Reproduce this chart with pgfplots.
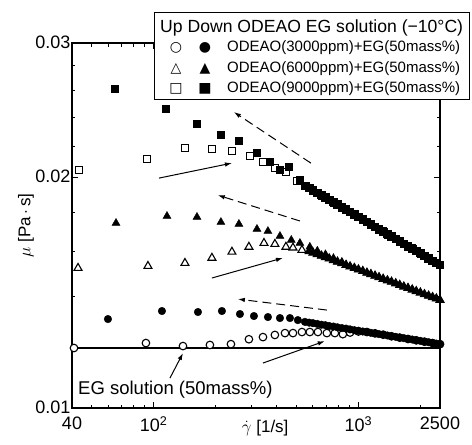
\documentclass[border=0pt]{standalone}
\usepackage{pgfplots}
\pgfplotsset{compat=1.18}
\usepackage{pgfplotstable}
\usepackage{fontspec}
\setmainfont{Liberation Sans}
\newfontfamily\sym{DejaVu Sans}
\usetikzlibrary{arrows.meta}

\pgfplotstableread{
x y
40.9 0.01198
91.8 0.01216
139.2 0.01205
188.4 0.01209
238.6 0.01212
292 0.01230
342 0.01238
391 0.01246
438 0.01253
479 0.01253
530 0.01257
579 0.01257
634 0.01257
701 0.01253
767 0.01253
839 0.01249
910 0.01255
1000 0.01259
1100 0.01257
1205 0.01252
1320 0.01247
1450 0.01241
1590 0.01236
1745 0.01231
1915 0.01226
2100 0.01221
2300 0.01216
2500 0.01212
}\upA

\pgfplotstableread{
x y
59.9 0.01307
109.9 0.01339
164.7 0.01335
215.6 0.01339
264 0.01327
309 0.01319
361.6 0.01315
413.9 0.01311
463 0.01311
506 0.01303
548 0.01296
575 0.01293
600 0.01291
630 0.01288
660 0.01285
690 0.01283
720 0.01280
755 0.01278
790 0.01275
830 0.01272
870 0.01270
910 0.01267
955 0.01264
1000 0.01262
1050 0.01259
1100 0.01257
1150 0.01254
1205 0.01252
1260 0.01249
1320 0.01247
1385 0.01244
1450 0.01241
1520 0.01239
1590 0.01236
1665 0.01234
1745 0.01231
1830 0.01229
1915 0.01226
2005 0.01224
2100 0.01221
2200 0.01219
2300 0.01216
2400 0.01214
2500 0.01212
}\downA

\pgfplotstableread{
x y
42.8 0.01524
93.9 0.01533
142.3 0.01547
192.7 0.01571
241.3 0.01600
292 0.01624
345.9 0.01643
391 0.01638
442.7 0.01624
479 0.01620
530 0.01609
}\upB

\pgfplotstableread{
x y
65.6 0.01745
116.3 0.01782
162.9 0.01777
213.2 0.01750
261 0.01740
319.6 0.01714
361.6 0.01703
413.9 0.01678
470 0.01658
517.8 0.01643
579 0.01624
630 0.01605
690 0.01588
755 0.01570
830 0.01552
}\downB

\pgfplotstableread{
x y
575 0.01603
600 0.01596
630 0.01589
660 0.01581
690 0.01574
720 0.01568
755 0.01560
790 0.01553
830 0.01546
870 0.01538
910 0.01531
955 0.01524
1000 0.01517
1050 0.01510
1100 0.01502
1150 0.01496
1205 0.01489
1260 0.01482
1320 0.01475
1385 0.01468
1450 0.01462
1520 0.01455
1590 0.01448
1665 0.01441
1745 0.01435
1830 0.01428
1915 0.01421
2005 0.01415
2100 0.01408
2200 0.01402
2300 0.01396
2400 0.01390
2500 0.01384
}\denseB

\pgfplotstableread{
x y
43.3 0.02047
92.9 0.02116
142.3 0.02187
192.7 0.02181
241.3 0.02168
295.3 0.02135
342 0.02097
391 0.02060
442.7 0.02034
500.7 0.01981
}\upC

\pgfplotstableread{
x y
64.8 0.02612
115 0.02459
162.9 0.02351
213.2 0.02275
261 0.02234
319.6 0.02154
369.9 0.02097
413.9 0.02047
457.9 0.02066
517.8 0.01987
}\downC

\pgfplotstableread{
x y
550 0.01953
575 0.01940
600 0.01927
630 0.01912
660 0.01898
690 0.01885
720 0.01872
755 0.01858
790 0.01845
830 0.01830
870 0.01817
910 0.01804
955 0.01790
1000 0.01777
1050 0.01764
1100 0.01751
1150 0.01738
1205 0.01726
1260 0.01713
1320 0.01701
1385 0.01688
1450 0.01676
1520 0.01664
1590 0.01652
1665 0.01640
1745 0.01628
1830 0.01616
1915 0.01604
2005 0.01593
2100 0.01581
2200 0.01569
2300 0.01558
2400 0.01548
2500 0.01538
}\denseC

\begin{document}
\begin{tikzpicture}
\begin{axis}[
  name=ax,
  scale only axis, width=368bp, height=365bp,
  xmode=log, ymode=log,
  xmin=40, xmax=2500, ymin=0.01, ymax=0.03,
  xtick={40,100,1000,2500},
  xticklabels={40,10\textsuperscript{2},10\textsuperscript{3},2500},
  minor xtick={50,60,70,80,90,200,300,400,500,600,700,800,900,2000},
  ytick={0.01,0.02,0.03}, yticklabels={0.01,0.02,0.03},
  minor ytick={0.012,0.014,0.016,0.018,0.022,0.024,0.026,0.028},
  tick align=inside, major tick length=6bp, minor tick length=3.5bp,
  every tick/.style={black, line width=1bp},
  axis line style={line width=1.5bp},
  /pgf/number format/assume math mode=true,
  ticklabel style={font=\fontsize{18bp}{20bp}\selectfont},
  xticklabel style={yshift=-5bp},
  yticklabel style={xshift=2bp, yshift=1bp},
  clip=false,
  xlabel={$\dot{\gamma}$ [1/s]},
  ylabel={$\mu$ [Pa\,$\cdot$\,s]},
  label style={font=\fontsize{17bp}{19bp}\selectfont},
  xlabel style={at={(axis description cs:0.525,-0.055)}, anchor=center},
  ylabel style={at={(axis description cs:-0.125,0.5)}, anchor=center},
  upc/.style={only marks, mark=*, mark size=3.8bp, mark options={fill=white, draw=black, line width=1.1bp}},
  dnc/.style={only marks, mark=*, mark size=3.8bp, mark options={fill=black, draw=black}},
  upt/.style={only marks, mark=triangle*, mark size=4.6bp, mark options={fill=white, draw=black, line width=1.1bp}},
  dnt/.style={only marks, mark=triangle*, mark size=4.6bp, mark options={fill=black, draw=black}},
  ups/.style={only marks, mark=square*, mark size=3.6bp, mark options={fill=white, draw=black, line width=1.1bp}},
  dns/.style={only marks, mark=square*, mark size=3.6bp, mark options={fill=black, draw=black}},
]
\addplot[black, line width=1.2bp] coordinates {(40,0.01198) (2500,0.01198)};
\addplot[upc] table {\upA};
\addplot[dnc] table {\downA};
\addplot[upt] table {\upB};
\addplot[upt] table {\denseB};
\addplot[dnt] table {\downB};
\addplot[dnt] table {\denseB};
\addplot[ups] table {\upC};
\addplot[ups] table {\denseC};
\addplot[dns] table {\downC};
\addplot[dns] table {\denseC};

% arrows
\draw[line width=1bp, dash pattern=on 9bp off 5bp, -{Latex[length=7bp,width=4.5bp]}] (axis cs:586,0.02090) -- (axis cs:246.7,0.02437);
\draw[line width=1bp, -{Latex[length=7bp,width=4.5bp]}] (axis cs:106.3,0.01998) -- (axis cs:241.3,0.02090);
\draw[line width=1bp, dash pattern=on 9bp off 5bp, -{Latex[length=7bp,width=4.5bp]}] (axis cs:517.8,0.01756) -- (axis cs:205.9,0.01898);
\draw[line width=1bp, -{Latex[length=7bp,width=4.5bp]}] (axis cs:192.7,0.01479) -- (axis cs:427.9,0.01571);
\draw[line width=1bp, dash pattern=on 9bp off 5bp, -{Latex[length=7bp,width=4.5bp]}] (axis cs:701,0.01343) -- (axis cs:258,0.01388);
\draw[line width=1bp, -{Latex[length=7bp,width=4.5bp]}] (axis cs:342,0.01145) -- (axis cs:685,0.01223);
\draw[line width=1bp, -{Latex[length=7bp,width=4.5bp]}] (axis cs:120.2,0.01094) -- (axis cs:139.2,0.0118);

\node[anchor=west, inner sep=0, font=\fontsize{18.5bp}{20bp}\selectfont] at (axis cs:42.8,0.01056) {EG solution (50mass\%)};

% legend
\node[draw, fill=white, line width=1.2bp, anchor=north west, minimum width=315bp, minimum height=87bp, inner sep=0] (LG) at ([shift={(82bp,31bp)}]rel axis cs:0,1) {};
\node[anchor=west, inner sep=0, font=\fontsize{17.6bp}{19bp}\selectfont] at ([shift={(6bp,-16bp)}]LG.north west) {Up Down ODEAO EG solution (−10°C)};
\node[inner sep=0, font=\sym\fontsize{14bp}{14bp}\selectfont] at ([shift={(22bp,-36bp)}]LG.north west) {○};
\node[inner sep=0, font=\sym\fontsize{14bp}{14bp}\selectfont] at ([shift={(51bp,-36bp)}]LG.north west) {●};
\node[inner sep=0, font=\sym\fontsize{14bp}{14bp}\selectfont] at ([shift={(22bp,-57bp)}]LG.north west) {△};
\node[inner sep=0, font=\sym\fontsize{14bp}{14bp}\selectfont] at ([shift={(51bp,-57bp)}]LG.north west) {▲};
\node[inner sep=0, font=\sym\fontsize{14bp}{14bp}\selectfont] at ([shift={(22bp,-77bp)}]LG.north west) {□};
\node[inner sep=0, font=\sym\fontsize{14bp}{14bp}\selectfont] at ([shift={(51bp,-77bp)}]LG.north west) {■};
\node[anchor=west, inner sep=0, font=\fontsize{15bp}{16bp}\selectfont] at ([shift={(73bp,-36bp)}]LG.north west) {ODEAO(3000ppm)+EG(50mass\%)};
\node[anchor=west, inner sep=0, font=\fontsize{15bp}{16bp}\selectfont] at ([shift={(73bp,-57bp)}]LG.north west) {ODEAO(6000ppm)+EG(50mass\%)};
\node[anchor=west, inner sep=0, font=\fontsize{15bp}{16bp}\selectfont] at ([shift={(73bp,-77bp)}]LG.north west) {ODEAO(9000ppm)+EG(50mass\%)};
\end{axis}
\pgfresetboundingbox
\path ([shift={(-72bp,-37bp)}]ax.south west) rectangle ([shift={(32bp,43bp)}]ax.north east);
\end{tikzpicture}
\end{document}
